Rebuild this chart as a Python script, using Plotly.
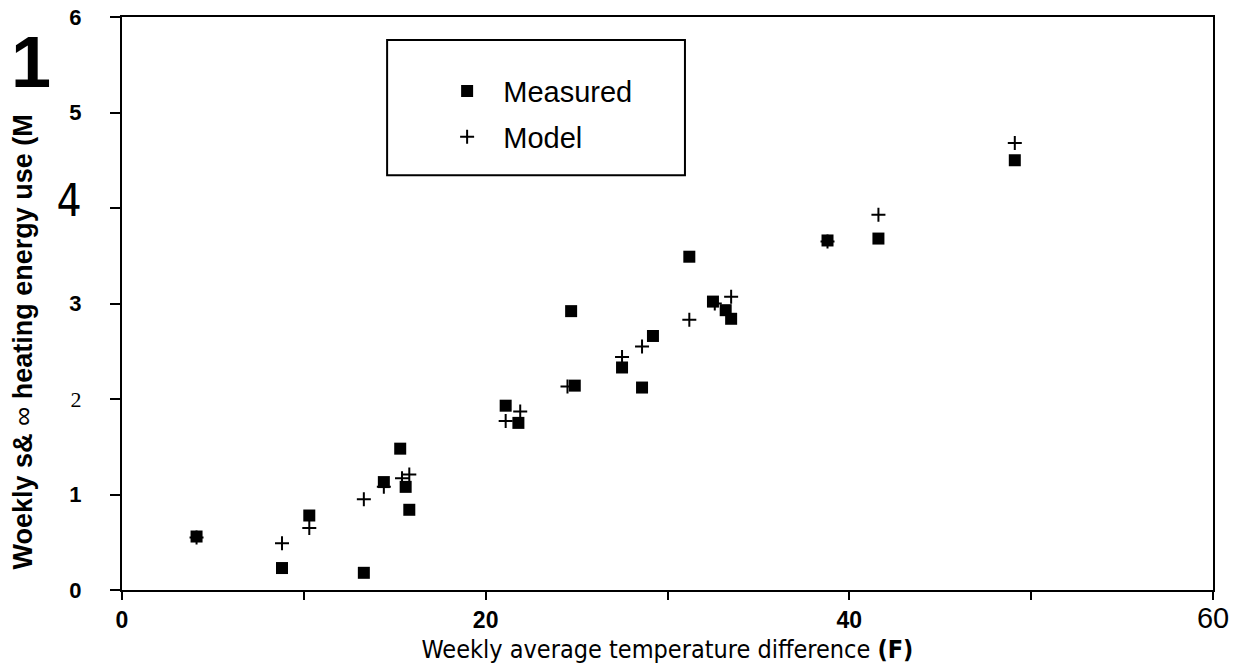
import plotly.graph_objects as go

# Data
measured_x = [4.1, 8.8, 10.3, 13.3, 14.4, 15.3, 15.6, 15.8, 21.1, 21.8, 24.7, 24.9,
              27.5, 28.6, 29.2, 31.2, 32.5, 33.2, 33.5, 38.8, 41.6, 49.1]
measured_y = [0.56, 0.23, 0.78, 0.18, 1.13, 1.48, 1.08, 0.84, 1.93, 1.75, 2.92, 2.14,
              2.33, 2.12, 2.66, 3.49, 3.02, 2.93, 2.84, 3.66, 3.68, 4.50]
model_x = [4.1, 8.8, 10.3, 13.3, 14.4, 15.4, 15.8, 21.1, 21.9, 24.5, 27.5, 28.6,
           31.2, 32.6, 33.5, 38.8, 41.6, 49.1]
model_y = [0.55, 0.49, 0.65, 0.95, 1.08, 1.17, 1.21, 1.77, 1.87, 2.13, 2.44, 2.55,
           2.83, 3.00, 3.07, 3.65, 3.93, 4.68]

COND = "DejaVu Sans Condensed"
x_tickvals = [0, 10, 20, 30, 40, 50, 60]
x_ticktext = ["<b>0</b>", "", "<b>20</b>", "", "<b>40</b>", "",
              "<span style='font-size:29px'>60</span>"]
y_tickvals = [0, 1, 2, 3, 4, 5, 6]
y_ticktext = ["<b>0</b>", "<b>1</b>",
              "<span style='font-family:Liberation Serif'>2</span>",
              "<b>3</b>",
              "<span style='font-family:DejaVu Sans Condensed;font-size:44px'>4</span>",
              "<b>5</b>", "<b>6</b>"]

fig = go.Figure()
fig.add_trace(go.Scatter(
    x=measured_x, y=measured_y, mode="markers", name="  Measured",
    legendgroup="a",
    marker=dict(symbol="square", size=12, color="black"),
))
fig.add_trace(go.Scatter(
    x=model_x, y=model_y, mode="markers", name="  Model",
    legendgroup="b",
    marker=dict(symbol="cross-thin", size=10, color="black",
                line=dict(color="black", width=2)),
))

fig.update_layout(
    width=1236, height=672,
    margin=dict(l=122, r=23, t=17, b=82, autoexpand=False),
    paper_bgcolor="white", plot_bgcolor="white",
    font=dict(family="Liberation Sans", color="black", size=22),
    showlegend=True,
    legend=dict(x=0.298, y=0.915, xanchor="left", yanchor="top",
                bgcolor="rgba(0,0,0,0)", borderwidth=0,
                font=dict(size=29, family="Liberation Sans"),
                tracegroupgap=5),
    xaxis=dict(range=[0, 60], tickvals=x_tickvals, ticktext=x_ticktext,
               automargin=False,
               showgrid=False, zeroline=False, showline=True, linecolor="black",
               linewidth=2, mirror=True, ticks="outside", ticklen=8, tickwidth=1.5,
               tickcolor="black", tickfont=dict(size=23, family="Liberation Sans"),
               title=dict(text="Weekly average temperature difference <b>(F)</b>",
                          font=dict(size=25, family=COND),
                          standoff=8)),
    yaxis=dict(range=[0, 6], tickvals=y_tickvals, ticktext=y_ticktext,
               automargin=False,
               showgrid=False, zeroline=False, showline=True, linecolor="black",
               linewidth=2, mirror=True, ticks="outside", ticklen=10, tickwidth=1.5,
               tickcolor="black", tickfont=dict(size=22, family="Liberation Sans"),
               ticklabelstandoff=24),
    shapes=[dict(type="rect", xref="paper", yref="paper",
                 x0=0.243, x1=0.516, y0=0.724, y1=0.960,
                 line=dict(color="black", width=2))],
    annotations=[
        dict(text="<b>Woekly s&amp;</b> ∞ <b>heatin<u>g</u> energy use (M</b>",
             xref="paper", yref="paper", x=-0.091, y=0.433,
             xanchor="center", yanchor="middle", textangle=-90,
             showarrow=False, font=dict(size=27, family="Liberation Sans")),
        dict(text="<b>1</b>", xref="paper", yref="paper", x=-0.083, y=0.921,
             xanchor="center", yanchor="middle",
             showarrow=False, font=dict(size=72, family="Liberation Sans")),
    ],
)

fig.write_html("out.html")
